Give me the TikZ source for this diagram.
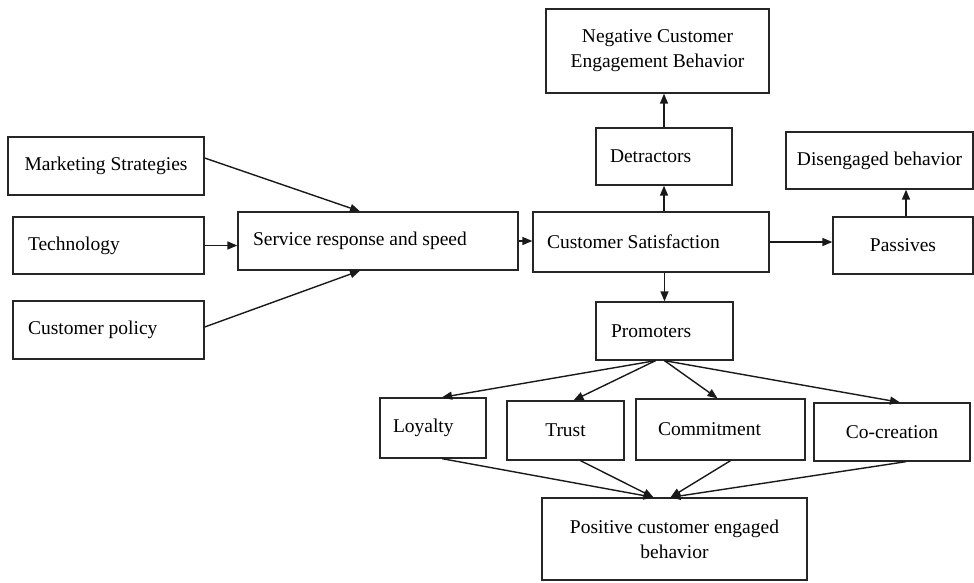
\documentclass[tikz,border=0pt]{standalone}
\usepackage{fontspec}
\setmainfont{Liberation Serif}
\usetikzlibrary{arrows.meta}
\def\boxfont{\fontsize{19.5}{25}\selectfont}

\begin{document}
\begin{tikzpicture}[x=1pt, y=-1pt,
		blk/.style={draw=black!85, line width=1.3pt, font=\boxfont, inner sep=0pt, align=center},
		lft/.style={align=flush left, inner xsep=#1},
		arr/.style={-{Triangle[length=10pt,width=8pt]}, line width=1.4pt, draw=black!90}]
		%%%%% START %%%%%
		
		\useasboundingbox (0, 0) rectangle (974, 582);
		
		\node[blk, minimum width=223pt, minimum height=84pt] (neg) at (657.5, 51) {Negative Customer\\Engagement Behavior};
		\node[blk, lft=14pt, text width=108pt, minimum height=57pt] (det) at (664, 156.5) {Detractors};
		\node[blk, minimum width=187pt, minimum height=57pt] (dis) at (879.5, 160.5) {Disengaged behavior};
		
		\node[blk, minimum width=196pt, minimum height=58pt] (mkt) at (106, 166) {Marketing Strategies};
		\node[blk, lft=15pt, text width=161pt, minimum height=57pt] (tec) at (108.5, 245.5) {Technology};
		\node[blk, lft=15pt, text width=161pt, minimum height=58pt] (pol) at (108.5, 330) {Customer policy};
		
		\node[blk, lft=15pt, text width=250pt, minimum height=58pt] (srv) at (378, 241) {Service response and speed};
		\node[blk, lft=14pt, text width=208pt, minimum height=60pt] (sat) at (651, 242) {Customer Satisfaction};
		\node[blk, minimum width=140pt, minimum height=57pt] (pas) at (903, 245.5) {Passives};
		
		\node[blk, lft=15pt, text width=107pt, minimum height=58pt] (pro) at (664.5, 331) {Promoters};
		
		\node[blk, lft=13pt, text width=80pt, minimum height=60pt] (loy) at (433, 428) {Loyalty};
		\node[blk, minimum width=117pt, minimum height=59pt] (tru) at (565.5, 430.5) {Trust};
		\node[blk, lft=22pt, text width=125pt, minimum height=61pt] (com) at (720.5, 429.5) {Commitment};
		\node[blk, minimum width=156pt, minimum height=58pt] (coc) at (892, 432) {Co-creation};
		
		\node[blk, minimum width=265pt, minimum height=82pt] (pos) at (674.5, 539) {Positive customer engaged\\behavior};
		
		\draw[arr] ([yshift=8pt]mkt.east) -- ([xshift=-18pt]srv.north);
		\draw[arr] (tec.east) -- (tec.east -| srv.west);
		\draw[arr] ([yshift=3pt]pol.east) -- ([xshift=-18pt]srv.south);
		\draw[arr] (srv.east) -- (srv.east -| sat.west);
		
		\draw[arr] (sat.north -| det.south) -- (det.south);
		\draw[arr] (det.north) -- (det.north |- neg.south);
		\draw[arr] (sat.east) -- (sat.east -| pas.west);
		\draw[arr] ([xshift=3pt]pas.north) -- ([xshift=3pt]pas.north |- dis.south);
		\draw[arr] (sat.south -| pro.north) -- (pro.north);
		
		\draw[arr] ([xshift=-9pt]pro.south) -- ([xshift=9pt]loy.north);
		\draw[arr] ([xshift=-9pt]pro.south) -- ([xshift=8pt]tru.north);
		\draw[arr] (pro.south) -- ([xshift=-3pt]com.north);
		\draw[arr] (pro.south) -- ([xshift=8pt]coc.north);
		
		\draw[arr] ([xshift=9pt]loy.south) -- ([xshift=-21pt]pos.north);
		\draw[arr] ([xshift=15pt]tru.south) -- ([xshift=-21pt]pos.north);
		\draw[arr] ([xshift=10pt]com.south) -- ([xshift=-4pt]pos.north);
		\draw[arr] ([xshift=14pt]coc.south) -- ([xshift=-4pt]pos.north);
		
		%%%%% END %%%%%
	\end{tikzpicture}
\end{document}
